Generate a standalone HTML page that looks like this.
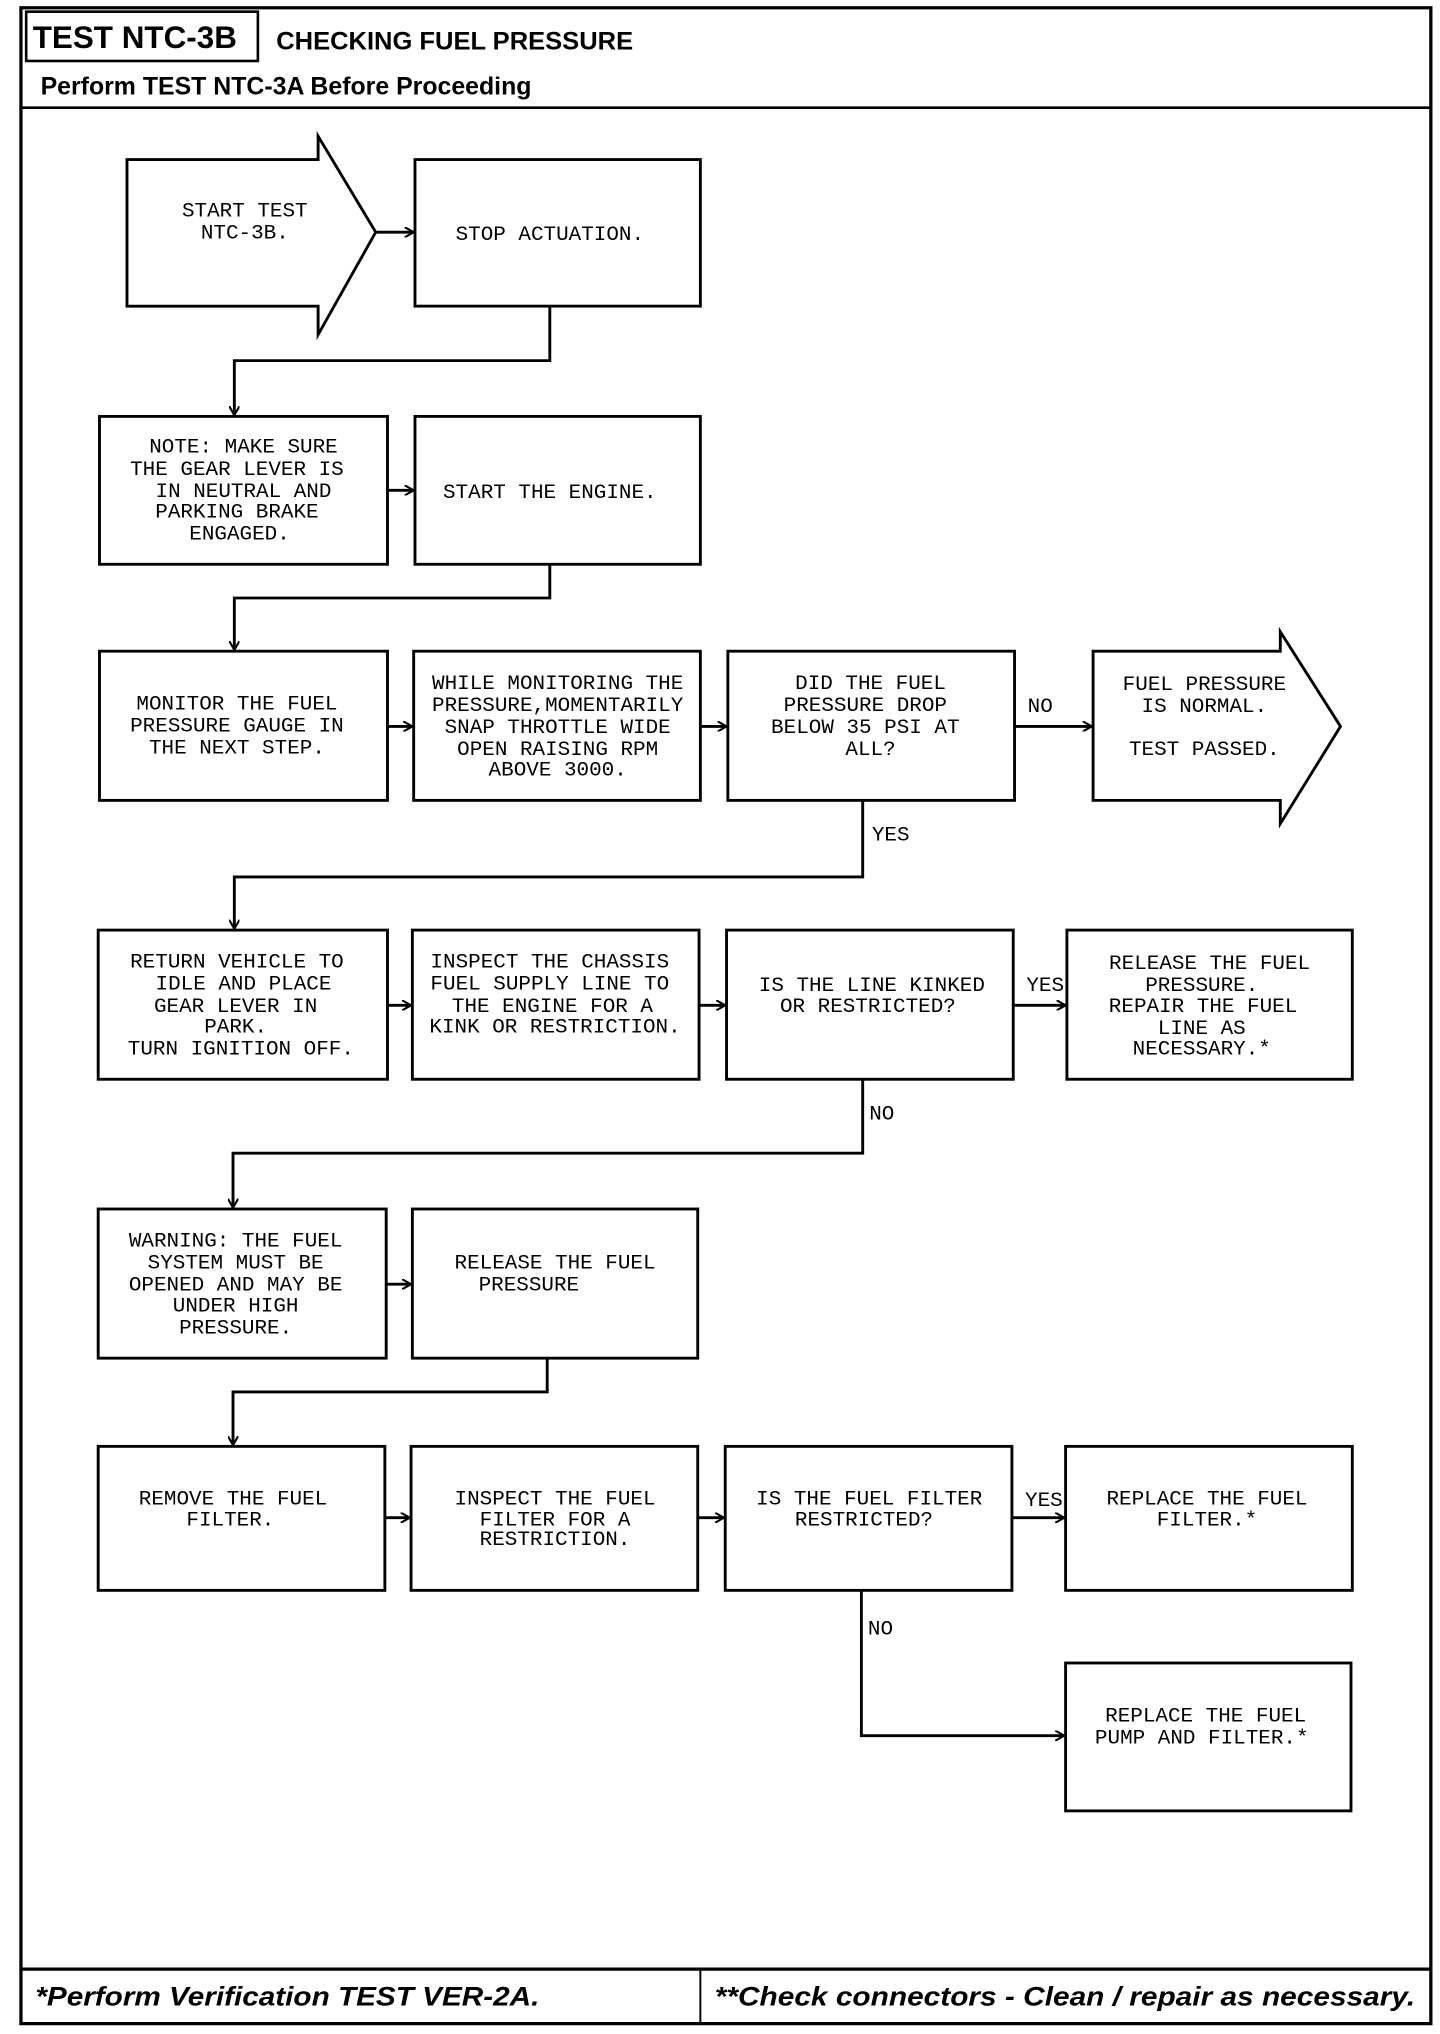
<!DOCTYPE html>
<html><head><meta charset="utf-8"><style>
html,body{margin:0;padding:0;background:#fff;}
svg{display:block;}
.t{font-family:"Liberation Mono",monospace;font-size:16px;fill:#000;text-anchor:middle;}
.l{font-family:"Liberation Mono",monospace;font-size:16px;fill:#000;}
.b{fill:#fff;stroke:#000;stroke-width:2.2;}
.c{fill:none;stroke:#000;stroke-width:2.2;}
</style></head><body>
<svg width="1440" height="2034" viewBox="0 0 1100 1568" preserveAspectRatio="none" xmlns="http://www.w3.org/2000/svg">
<defs><marker id="a" markerWidth="8" markerHeight="8" refX="7" refY="4" orient="auto" markerUnits="userSpaceOnUse"><path d="M0,0 L7,4 L0,8" fill="none" stroke="#000" stroke-width="1.6"/></marker></defs>
<rect x="16" y="6" width="1077" height="1554" fill="none" stroke="#000" stroke-width="2.5"/>
<rect x="20" y="9" width="177" height="38" fill="none" stroke="#000" stroke-width="2"/>
<line x1="197" y1="47" x2="1093" y2="47" stroke="#fff" stroke-width="0"/>
<text x="25" y="37" style="font-family:'Liberation Sans',sans-serif;font-weight:bold;font-size:24px">TEST NTC-3B</text>
<text x="211" y="38" style="font-family:'Liberation Sans',sans-serif;font-weight:bold;font-size:19.5px">CHECKING FUEL PRESSURE</text>
<text x="31" y="73" style="font-family:'Liberation Sans',sans-serif;font-weight:bold;font-size:19px">Perform TEST NTC-3A Before Proceeding</text>
<line x1="16" y1="83" x2="1093" y2="83" stroke="#000" stroke-width="2"/>
<line x1="16" y1="1518" x2="1093" y2="1518" stroke="#000" stroke-width="2.5"/>
<line x1="535" y1="1518" x2="535" y2="1560" stroke="#000" stroke-width="1.5"/>
<text x="27" y="1546" textLength="385" lengthAdjust="spacingAndGlyphs" style="font-family:'Liberation Sans',sans-serif;font-weight:bold;font-style:italic;font-size:21px">*Perform Verification TEST VER-2A.</text>
<text x="546" y="1546" textLength="535" lengthAdjust="spacingAndGlyphs" style="font-family:'Liberation Sans',sans-serif;font-weight:bold;font-style:italic;font-size:21px">**Check connectors - Clean / repair as necessary.</text>

<!-- row1 -->
<path class="b" d="M97,123 L243,123 L243,105 L287,179 L243,258 L243,236 L97,236 Z"/>
<text class="t" x="187" y="167">START TEST</text><text class="t" x="187" y="184">NTC-3B.</text>
<rect class="b" x="317" y="123" width="218" height="113"/>
<text class="t" x="420" y="185">STOP ACTUATION.</text>
<line class="c" x1="287" y1="179" x2="316" y2="179" marker-end="url(#a)"/>
<path class="c" d="M420,236 V278 H179 V320" marker-end="url(#a)"/>
<!-- row2 -->
<rect class="b" x="76" y="321" width="220" height="114"/>
<text class="t" x="186" y="349">NOTE: MAKE SURE</text><text class="t" x="181" y="366">THE GEAR LEVER IS</text><text class="t" x="186" y="383">IN NEUTRAL AND</text><text class="t" x="181" y="399">PARKING BRAKE</text><text class="t" x="183" y="416">ENGAGED.</text>
<rect class="b" x="317" y="321" width="218" height="114"/>
<text class="t" x="420" y="384">START THE ENGINE.</text>
<line class="c" x1="296" y1="378" x2="316" y2="378" marker-end="url(#a)"/>
<path class="c" d="M420,435 V461 H179 V501" marker-end="url(#a)"/>
<!-- row3 -->
<rect class="b" x="76" y="502" width="220" height="115"/>
<text class="t" x="181" y="547">MONITOR THE FUEL</text><text class="t" x="181" y="564">PRESSURE GAUGE IN</text><text class="t" x="181" y="581">THE NEXT STEP.</text>
<rect class="b" x="316" y="502" width="219" height="115"/>
<text class="t" x="426" y="531">WHILE MONITORING THE</text><text class="t" x="426" y="548">PRESSURE,MOMENTARILY</text><text class="t" x="426" y="565">SNAP THROTTLE WIDE</text><text class="t" x="426" y="582">OPEN RAISING RPM</text><text class="t" x="426" y="598">ABOVE 3000.</text>
<line class="c" x1="296" y1="560" x2="315" y2="560" marker-end="url(#a)"/>
<rect class="b" x="556" y="502" width="219" height="115"/>
<text class="t" x="665" y="531">DID THE FUEL</text><text class="t" x="661" y="548">PRESSURE DROP</text><text class="t" x="661" y="565">BELOW 35 PSI AT</text><text class="t" x="665" y="582">ALL?</text>
<line class="c" x1="535" y1="560" x2="555" y2="560" marker-end="url(#a)"/>
<path class="b" d="M835,502 L978,502 L978,487 L1024,560 L978,635 L978,617 L835,617 Z"/>
<text class="t" x="920" y="532">FUEL PRESSURE</text><text class="t" x="920" y="549">IS NORMAL.</text><text class="t" x="920" y="582">TEST PASSED.</text>
<line class="c" x1="775" y1="560" x2="834" y2="560" marker-end="url(#a)"/>
<text class="l" x="785" y="549">NO</text>
<path class="c" d="M659,617 V676 H179 V716" marker-end="url(#a)"/>
<text class="l" x="666" y="648">YES</text>
<!-- row4 -->
<rect class="b" x="75" y="717" width="221" height="115"/>
<text class="t" x="181" y="746">RETURN VEHICLE TO</text><text class="t" x="186" y="763">IDLE AND PLACE</text><text class="t" x="180" y="780">GEAR LEVER IN</text><text class="t" x="180" y="796">PARK.</text><text class="t" x="184" y="813">TURN IGNITION OFF.</text>
<rect class="b" x="315" y="717" width="219" height="115"/>
<text class="t" x="420" y="746">INSPECT THE CHASSIS</text><text class="t" x="420" y="763">FUEL SUPPLY LINE TO</text><text class="t" x="422" y="780">THE ENGINE FOR A</text><text class="t" x="424" y="796">KINK OR RESTRICTION.</text>
<line class="c" x1="296" y1="775" x2="314" y2="775" marker-end="url(#a)"/>
<rect class="b" x="555" y="717" width="219" height="115"/>
<text class="t" x="666" y="764">IS THE LINE KINKED</text><text class="t" x="663" y="780">OR RESTRICTED?</text>
<line class="c" x1="534" y1="775" x2="554" y2="775" marker-end="url(#a)"/>
<rect class="b" x="815" y="717" width="218" height="115"/>
<text class="t" x="924" y="747">RELEASE THE FUEL</text><text class="t" x="918" y="764">PRESSURE.</text><text class="t" x="919" y="780">REPAIR THE FUEL</text><text class="t" x="918" y="797">LINE AS</text><text class="t" x="918" y="813">NECESSARY.*</text>
<line class="c" x1="774" y1="775" x2="814" y2="775" marker-end="url(#a)"/>
<text class="l" x="784" y="764">YES</text>
<path class="c" d="M659,832 V889 H178 V931" marker-end="url(#a)"/>
<text class="l" x="664" y="863">NO</text>
<!-- row5 -->
<rect class="b" x="75" y="932" width="220" height="115"/>
<text class="t" x="180" y="961">WARNING: THE FUEL</text><text class="t" x="180" y="978">SYSTEM MUST BE</text><text class="t" x="180" y="995">OPENED AND MAY BE</text><text class="t" x="180" y="1011">UNDER HIGH</text><text class="t" x="180" y="1028">PRESSURE.</text>
<rect class="b" x="315" y="932" width="218" height="115"/>
<text class="t" x="424" y="978">RELEASE THE FUEL</text><text class="t" x="404" y="995">PRESSURE</text>
<line class="c" x1="295" y1="990" x2="314" y2="990" marker-end="url(#a)"/>
<path class="c" d="M418,1047 V1073 H178 V1114" marker-end="url(#a)"/>
<!-- row6 -->
<rect class="b" x="75" y="1115" width="219" height="111"/>
<text class="t" x="178" y="1160">REMOVE THE FUEL</text><text class="t" x="176" y="1176">FILTER.</text>
<rect class="b" x="314" y="1115" width="219" height="111"/>
<text class="t" x="424" y="1160">INSPECT THE FUEL</text><text class="t" x="424" y="1176">FILTER FOR A</text><text class="t" x="424" y="1191">RESTRICTION.</text>
<line class="c" x1="294" y1="1170" x2="313" y2="1170" marker-end="url(#a)"/>
<rect class="b" x="554" y="1115" width="219" height="111"/>
<text class="t" x="664" y="1160">IS THE FUEL FILTER</text><text class="t" x="660" y="1176">RESTRICTED?</text>
<line class="c" x1="533" y1="1170" x2="553" y2="1170" marker-end="url(#a)"/>
<rect class="b" x="814" y="1115" width="219" height="111"/>
<text class="t" x="922" y="1160">REPLACE THE FUEL</text><text class="t" x="922" y="1176">FILTER.*</text>
<line class="c" x1="773" y1="1170" x2="813" y2="1170" marker-end="url(#a)"/>
<text class="l" x="783" y="1161">YES</text>
<path class="c" d="M658,1226 V1338 H813" marker-end="url(#a)"/>
<text class="l" x="663" y="1260">NO</text>
<rect class="b" x="814" y="1282" width="218" height="114"/>
<text class="t" x="921" y="1327">REPLACE THE FUEL</text><text class="t" x="918" y="1344">PUMP AND FILTER.*</text>
</svg>
</body></html>
